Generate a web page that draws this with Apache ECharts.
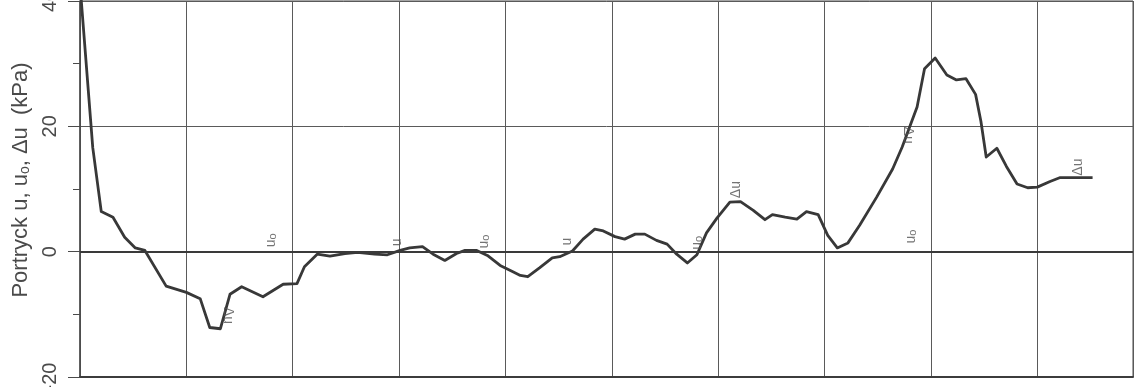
<!DOCTYPE html>
<html>
<head>
<meta charset="utf-8">
<title>Portryck</title>
<script src="https://cdn.jsdelivr.net/npm/echarts@6/dist/echarts.min.js"></script>
<style>
  html, body { margin: 0; padding: 0; background: #ffffff; }
  #chart { width: 1137px; height: 387px; }
</style>
</head>
<body>
<div id="chart"></div>
<script>
// Sounding position along the profile (grid units) and excess pore pressure (kPa)
const position = [
  0.01, 0.12, 0.20, 0.31, 0.42, 0.52, 0.61, 0.81, 1.00, 1.13,
  1.22, 1.32, 1.41, 1.52, 1.72, 1.91, 2.04, 2.11, 2.23, 2.35,
  2.49, 2.61, 2.77, 2.89, 3.01, 3.10, 3.22, 3.32, 3.43, 3.54,
  3.62, 3.73, 3.83, 3.95, 4.07, 4.14, 4.21, 4.32, 4.44, 4.51,
  4.63, 4.73, 4.84, 4.92, 5.03, 5.12, 5.22, 5.31, 5.42, 5.52,
  5.61, 5.71, 5.80, 5.89, 5.99, 6.11, 6.21, 6.33, 6.44, 6.51,
  6.63, 6.74, 6.83, 6.94, 7.03, 7.12, 7.22, 7.33, 7.49, 7.64,
  7.73, 7.80, 7.87, 7.94, 8.04, 8.15, 8.24, 8.33, 8.42, 8.47,
  8.52, 8.62, 8.71, 8.81, 8.91, 9.00, 9.12, 9.21, 9.52
];
const porePressure = [
  40.5, 16.6, 6.4, 5.5, 2.3, 0.6, 0.2, -5.5, -6.5, -7.5,
  -12.1, -12.3, -6.8, -5.6, -7.2, -5.2, -5.1, -2.4, -0.4, -0.7,
  -0.3, -0.1, -0.4, -0.5, 0.2, 0.6, 0.8, -0.4, -1.4, -0.3,
  0.2, 0.2, -0.6, -2.2, -3.2, -3.8, -4.0, -2.6, -1.0, -0.8,
  0.1, 2.0, 3.6, 3.3, 2.4, 2.0, 2.8, 2.8, 1.8, 1.2,
  -0.4, -1.8, -0.5, 3.0, 5.4, 7.9, 8.0, 6.6, 5.1, 5.9,
  5.5, 5.2, 6.4, 5.9, 2.6, 0.6, 1.4, 4.2, 8.7, 13.2,
  16.7, 19.9, 23.1, 29.2, 30.9, 28.2, 27.4, 27.6, 25.1, 20.8,
  15.1, 16.5, 13.6, 10.8, 10.2, 10.3, 11.2, 11.8, 11.8
];

// Curve annotations: where they sit and how they are turned
const noteX = [1.39, 1.80, 2.98, 3.80, 4.58, 5.80, 6.17, 7.78, 7.81, 9.38];
const noteY = [-10.2, 1.8, 1.5, 1.6, 1.6, 1.4, 9.9, 18.6, 2.4, 13.5];
const noteText = ['Δu', 'u0', 'u', 'u0', 'u', 'u0', 'Δu', 'Δu', 'u0', 'Δu'];
const noteRotate = [-90, 90, 90, 90, 90, 90, 90, -90, 90, 90];

// Y axis range and ticks
const yMin = -20, yMax = 40, yStep = 20;
const xMin = 0, xMax = 9.9, xStep = 1;

const lineData = position.map((x, i) => [x, porePressure[i]]);
const noteData = noteX.map((x, i) => ({
  value: [x, noteY[i]],
  name: noteText[i],
  label: { rotate: noteRotate[i] }
}));

const font = '"Liberation Sans", Arial, sans-serif';
const chart = echarts.init(document.getElementById('chart'), null, { renderer: 'canvas' });

chart.setOption({
  backgroundColor: '#ffffff',
  animation: false,
  grid: {
    left: 80, right: 4, top: 1, bottom: 10,
    containLabel: false,
    outerBoundsMode: 'none',
    show: true,
    borderColor: '#4a4a4a',
    borderWidth: 1
  },
  xAxis: {
    type: 'value',
    min: xMin, max: xMax, interval: xStep,
    axisLine: { show: true, onZero: false, lineStyle: { color: '#3c3c3c', width: 2 } },
    axisTick: { show: false },
    axisLabel: { show: false },
    splitLine: { show: true, lineStyle: { color: '#5a5a5a', width: 1 } }
  },
  yAxis: {
    type: 'value',
    min: yMin, max: yMax, interval: yStep,
    name: '{t|Portryck u, u}{s|o}{t|, Δu  (kPa)}',
    nameLocation: 'middle',
    nameGap: 45,
    nameRotate: 90,
    nameTextStyle: {
      padding: [0, 0, 0, 18],
      rich: {
        t: { fontFamily: font, fontSize: 22, color: '#4a4a4a' },
        s: { fontFamily: font, fontSize: 14, color: '#4a4a4a', verticalAlign: 'bottom', padding: [7, 0, 0, 0] }
      }
    },
    axisLine: { show: true, onZero: false, lineStyle: { color: '#4a4a4a', width: 1.5 } },
    axisTick: { show: true, inside: false, length: 12, lineStyle: { color: '#4a4a4a', width: 1 } },
    minorTick: { show: true, splitNumber: 2, length: 7, lineStyle: { color: '#4a4a4a', width: 1 } },
    axisLabel: {
      show: true,
      rotate: 90,
      margin: 20,
      fontFamily: font,
      fontSize: 20,
      color: '#4a4a4a',
      showMinLabel: true,
      showMaxLabel: true
    },
    splitLine: { show: true, lineStyle: { color: '#5a5a5a', width: 1 } }
  },
  series: [
    {
      type: 'line',
      data: lineData,
      showSymbol: false,
      symbol: 'none',
      smooth: false,
      lineStyle: { color: '#383838', width: 2.8, join: 'round' },
      markLine: {
        silent: true,
        symbol: 'none',
        label: { show: false },
        lineStyle: { color: '#3a3a3a', width: 2, type: 'solid' },
        data: [{ yAxis: 0 }]
      },
      z: 3
    },
    {
      type: 'scatter',
      data: noteData,
      symbolSize: 0,
      silent: true,
      label: {
        show: true,
        position: 'inside',
        formatter: (p) => p.name === 'u0' ? '{t|u}{s|o}' : '{t|' + p.name + '}',
        rich: {
          t: { fontFamily: font, fontSize: 14, color: '#505050' },
          s: { fontFamily: font, fontSize: 11, color: '#505050', verticalAlign: 'bottom', padding: [4, 0, 0, 0] }
        }
      },
      z: 4
    }
  ]
});
</script>
</body>
</html>
